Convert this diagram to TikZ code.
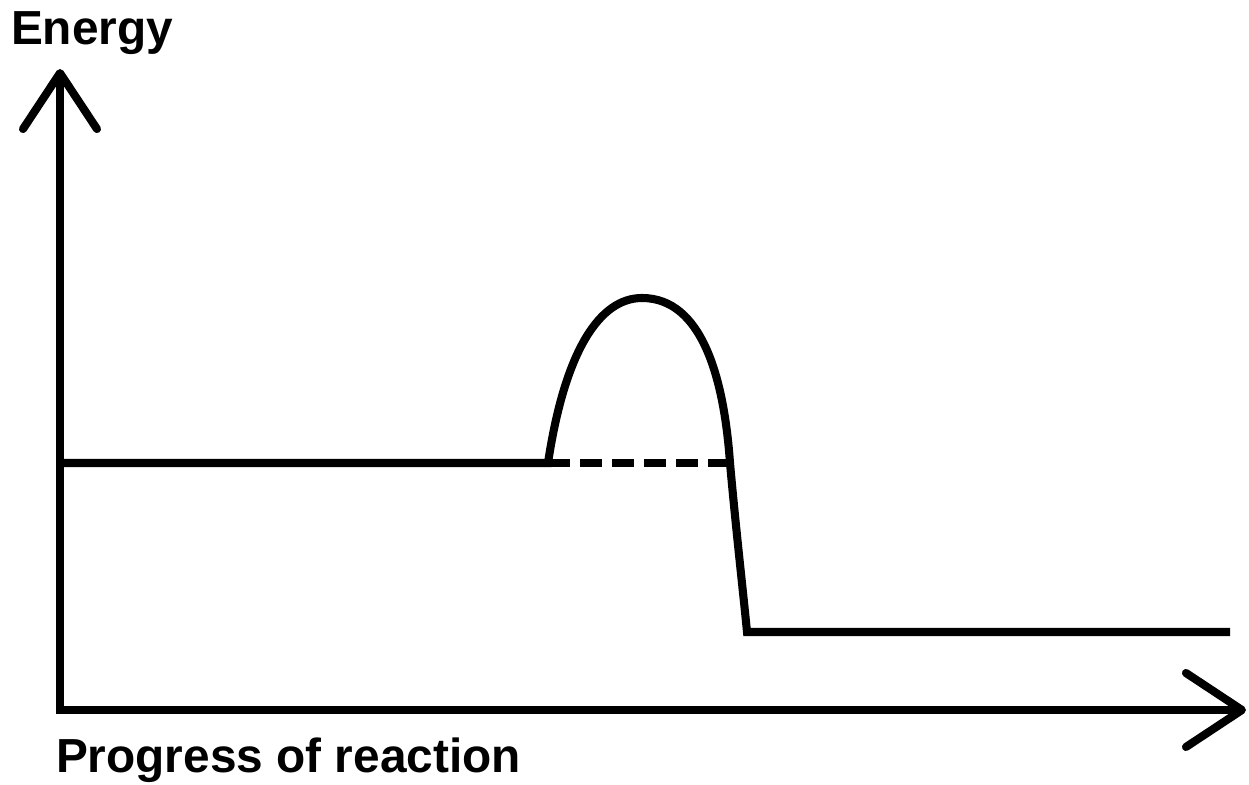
\documentclass[tikz,border=0pt]{standalone}
\usepackage{fontspec}
\setmainfont{Liberation Sans}
\usepackage{tikz}
\usetikzlibrary{arrows.meta}

\begin{document}
\begin{tikzpicture}[line width=2.3pt,
  barb/.tip={Straight Barb[length=5.6mm,width=7.4mm,round]},
  axislabel/.style={anchor=base west,inner sep=0pt,font=\bfseries\fontsize{13.6}{16}\selectfont}]
  \useasboundingbox (0,0) rectangle (12.49,7.85);

  %axes
  \coordinate (O) at (0.60,0.75);
  \coordinate (Etop) at (0.60,7.16);
  \coordinate (Xend) at (12.46,0.75);
  \draw[barb-barb] (Etop) -- (O) -- (Xend);
  \node[axislabel] (energy) at (0.07,7.40) {Energy};
  \node[axislabel] (progress) at (0.52,0.12) {Progress of reaction};

  %profile
  \coordinate (R) at (0.60,3.22);
  \coordinate (TSa) at (5.48,3.22);
  \coordinate (TS) at (6.42,4.87);
  \coordinate (TSb) at (7.30,3.22);
  \coordinate (P0) at (7.47,1.53);
  \coordinate (P1) at (12.30,1.53);
  \draw (R) -- (TSa) .. controls +(0.17,1.13) and +(-0.42,0) .. (TS)
    .. controls +(0.60,0) and +(-0.06,0.85) .. (TSb)
    .. controls +(0.06,-0.67) and +(-0.03,0.32) .. (P0) -- (P1);

  %dashed
  \draw[dash pattern=on 2.2mm off 1mm] (TSa) -- (TSb);
\end{tikzpicture}
\end{document}
